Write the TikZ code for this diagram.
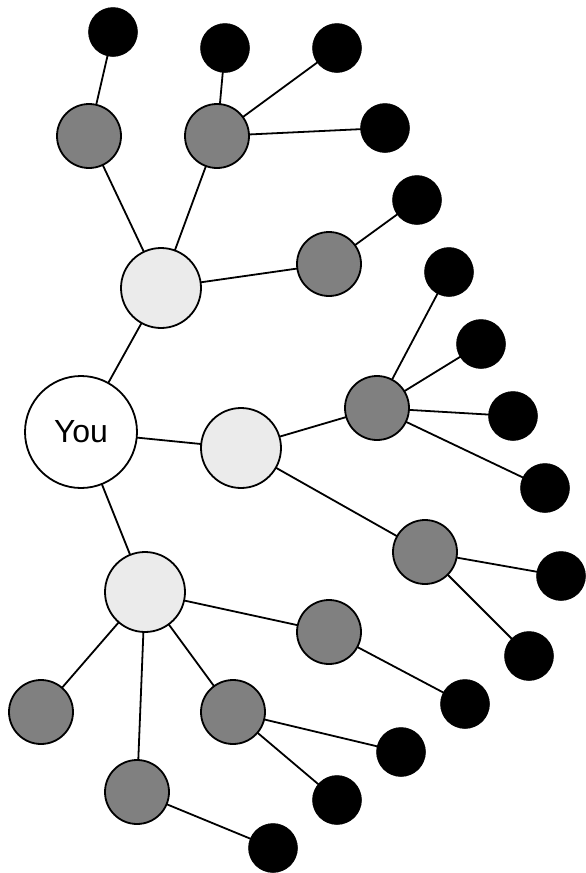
\documentclass[tikz,border=0pt]{standalone}
\usepackage{fontspec}
\setmainfont{Liberation Sans}
\usetikzlibrary{backgrounds}
\definecolor{lightnode}{HTML}{EBEBEB}
\definecolor{darknode}{HTML}{808080}
\tikzset{
  base/.style={circle,draw=black,line width=1.8pt,inner sep=0pt},
  younode/.style={base,fill=white,minimum size=112pt,font=\fontsize{32}{38}\selectfont},
  lnode/.style={base,fill=lightnode,minimum size=80pt},
  dnode/.style={base,fill=darknode,minimum size=64pt},
  bnode/.style={circle,fill=black,draw=black,line width=0.5pt,inner sep=0pt,minimum size=49pt},
  link/.style={line width=1.8pt,draw=black}
}
\begin{document}
\begin{tikzpicture}[x=1pt,y=-1pt]
\useasboundingbox (0,0) rectangle (586,873);
\node[younode] (you) at (81,432) {You};
\node[lnode] (l1) at (161,288) {};
\node[lnode] (l2) at (241,448) {};
\node[lnode] (l3) at (145,592) {};
\node[dnode] (d1) at (89,136) {};
\node[dnode] (d2) at (217,136) {};
\node[dnode] (d3) at (329,264) {};
\node[dnode] (d4) at (377,408) {};
\node[dnode] (d5) at (425,552) {};
\node[dnode] (d6) at (329,632) {};
\node[dnode] (d7) at (41,712) {};
\node[dnode] (d8) at (233,712) {};
\node[dnode] (d9) at (137,792) {};
\node[bnode] (b1) at (113,32) {};
\node[bnode] (b2) at (225,48) {};
\node[bnode] (b3) at (337,48) {};
\node[bnode] (b4) at (385,128) {};
\node[bnode] (b5) at (417,200) {};
\node[bnode] (b6) at (449,272) {};
\node[bnode] (b7) at (481,344) {};
\node[bnode] (b8) at (513,416) {};
\node[bnode] (b9) at (545,488) {};
\node[bnode] (b10) at (561,576) {};
\node[bnode] (b11) at (529,656) {};
\node[bnode] (b12) at (465,704) {};
\node[bnode] (b13) at (401,752) {};
\node[bnode] (b14) at (337,800) {};
\node[bnode] (b15) at (273,848) {};
\begin{scope}[on background layer]
\draw[link] (you.center) -- (l1.center);
\draw[link] (you.center) -- (l2.center);
\draw[link] (you.center) -- (l3.center);
\draw[link] (l1.center) -- (d1.center);
\draw[link] (l1.center) -- (d2.center);
\draw[link] (l1.center) -- (d3.center);
\draw[link] (l2.center) -- (d4.center);
\draw[link] (l2.center) -- (d5.center);
\draw[link] (l3.center) -- (d6.center);
\draw[link] (l3.center) -- (d7.center);
\draw[link] (l3.center) -- (d8.center);
\draw[link] (l3.center) -- (d9.center);
\draw[link] (d1.center) -- (b1.center);
\draw[link] (d2.center) -- (b2.center);
\draw[link] (d2.center) -- (b3.center);
\draw[link] (d2.center) -- (b4.center);
\draw[link] (d3.center) -- (b5.center);
\draw[link] (d4.center) -- (b6.center);
\draw[link] (d4.center) -- (b7.center);
\draw[link] (d4.center) -- (b8.center);
\draw[link] (d4.center) -- (b9.center);
\draw[link] (d5.center) -- (b10.center);
\draw[link] (d5.center) -- (b11.center);
\draw[link] (d6.center) -- (b12.center);
\draw[link] (d8.center) -- (b13.center);
\draw[link] (d8.center) -- (b14.center);
\draw[link] (d9.center) -- (b15.center);
\end{scope}
\end{tikzpicture}
\end{document}
